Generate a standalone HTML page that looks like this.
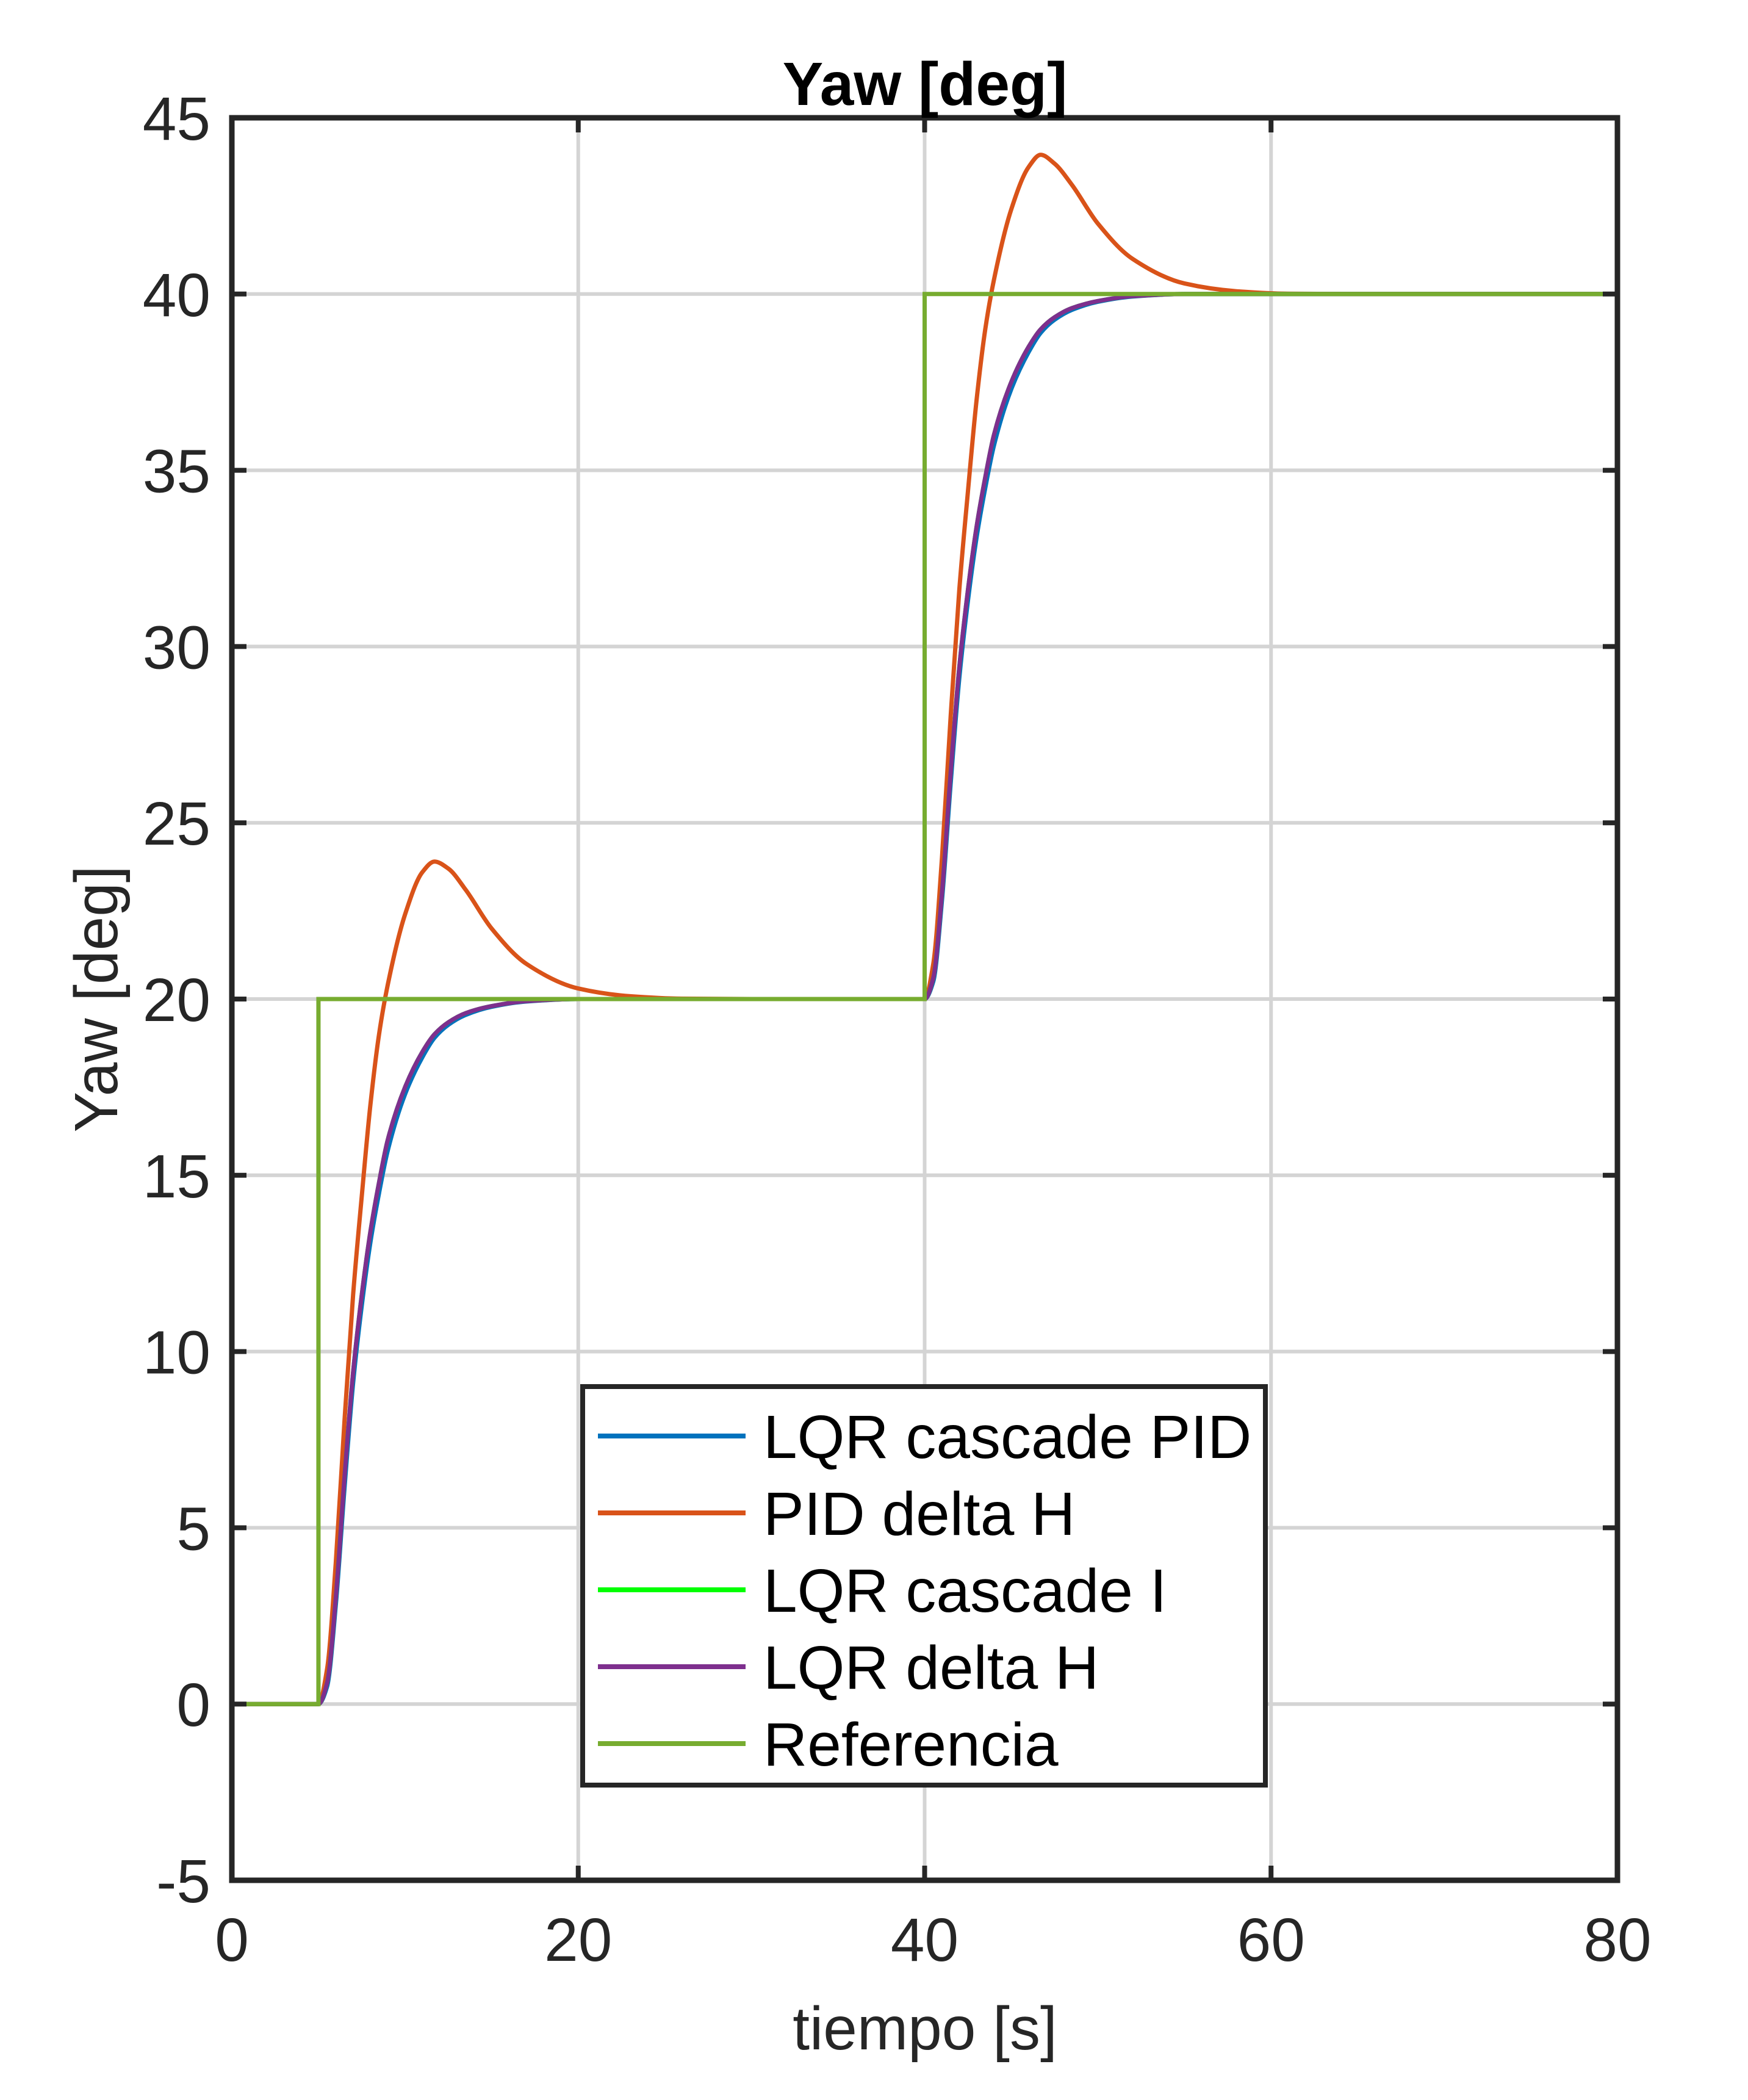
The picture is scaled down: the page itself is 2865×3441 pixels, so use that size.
<!DOCTYPE html>
<html><head><meta charset="utf-8"><style>
html,body{margin:0;padding:0;background:#fff;}
svg{display:block;font-family:"Liberation Sans",Arial,sans-serif;}
</style></head><body>
<svg id="chart" width="2865" height="3441" viewBox="0 0 2865 3441" xmlns="http://www.w3.org/2000/svg">
<rect width="2865" height="3441" fill="#fff"/>
<g id="grid"></g>
<g id="series"></g>
<g id="axes"></g>
<text x="1516" y="172" text-anchor="middle" font-size="100" font-weight="bold" fill="#000">Yaw [deg]</text>
<text x="1516" y="3358" text-anchor="middle" font-size="100" fill="#262626">tiempo [s]</text>
<text transform="translate(192,1637) rotate(-90)" text-anchor="middle" font-size="100" fill="#262626">Yaw [deg]</text>
<g id="legend"></g>
</svg>
<script>
const xTicks=[0,20,40,60,80];
const yTicks=[-5,0,5,10,15,20,25,30,35,40,45];
const tVals=[0,5,5.5,6,6.5,7,7.5,8,8.5,9,10,11,11.7,12.5,13.5,15,17,20,23,26,30,35,40,40.5,41,41.5,42,42.5,43,43.5,44,45,46,46.7,47.5,48.5,50,52,55,58,61,65,70,80];
const pidDeltaH=[0,0,1,4,8,11.6,14.4,17,19,20.4,22.4,23.6,23.9,23.7,23.1,22,21,20.3,20.08,20.01,20,20,20,21,24,28,31.6,34.4,37,39,40.4,42.4,43.6,43.95,43.7,43.1,42,41,40.3,40.08,40.01,40,40,40];
const lqrDeltaH=[0,0,0.6,3,6.4,9.4,11.6,13.4,14.8,16,17.5,18.5,19,19.34,19.6,19.8,19.94,20,20,20,20,20,20,20.6,23,26.4,29.4,31.6,33.4,34.8,36,37.5,38.5,39,39.34,39.6,39.8,39.94,40,40,40,40,40,40];
const lqrCascadeI=[0,0,0.6,3,6.4,9.4,11.6,13.4,14.8,16,17.5,18.5,19,19.34,19.6,19.8,19.94,20,20,20,20,20,20,20.6,23,26.4,29.4,31.6,33.4,34.8,36,37.5,38.5,39,39.34,39.6,39.8,39.94,40,40,40,40,40,40];
const lqrCascadePID=[0,0,0.5,2.8,6.1,9.1,11.3,13.1,14.5,15.7,17.3,18.35,18.9,19.27,19.55,19.78,19.93,20,20,20,20,20,20,20.5,22.8,26.1,29.1,31.3,33.1,34.5,35.7,37.3,38.35,38.9,39.27,39.55,39.78,39.93,40,40,40,40,40,40];
const refT=[0,5,5,40,40,80];
const refV=[0,0,20,20,40,40];
const legendLabels=["LQR cascade PID","PID delta H","LQR cascade I","LQR delta H","Referencia"];
const legendColors=["#0072BD","#D95319","#00FF00","#7E2F8E","#77AC30"];

const L=380,R=2651,T=193,B=3081;
const X=v=>L+(v-0)/(80-0)*(R-L);
const Y=v=>B-(v-(-5))/(45-(-5))*(B-T);
const NS="http://www.w3.org/2000/svg";
function mk(tag,attrs,parent){const e=document.createElementNS(NS,tag);for(const k in attrs)e.setAttribute(k,attrs[k]);parent.appendChild(e);return e;}
const grid=document.getElementById('grid'),axes=document.getElementById('axes'),series=document.getElementById('series'),legend=document.getElementById('legend');
xTicks.forEach(v=>{
  const g=mk('line',{x1:X(v),x2:X(v),y1:T,y2:B,stroke:'#d4d4d4','stroke-width':6},grid);
  
  
  const t1=mk('line',{x1:X(v),x2:X(v),y1:B,y2:B-24,stroke:'#262626','stroke-width':8},axes);
  
  
  const t2=mk('line',{x1:X(v),x2:X(v),y1:T,y2:T+24,stroke:'#262626','stroke-width':8},axes);
  
  
  const lb=mk('text',{x:X(v),y:3213,'text-anchor':'middle','font-size':100,fill:'#262626'},axes);
  lb.textContent=v;
  
  
});
yTicks.forEach(v=>{
  const g=mk('line',{x1:L,x2:R,y1:Y(v),y2:Y(v),stroke:'#d4d4d4','stroke-width':6},grid);
  
  
  const t1=mk('line',{x1:L,x2:L+24,y1:Y(v),y2:Y(v),stroke:'#262626','stroke-width':8},axes);
  
  
  const t2=mk('line',{x1:R,x2:R-24,y1:Y(v),y2:Y(v),stroke:'#262626','stroke-width':8},axes);
  
  
  const lb=mk('text',{x:345,y:Y(v)+36,'text-anchor':'end','font-size':100,fill:'#262626'},axes);
  lb.textContent=v;
  
  
});
const box=mk('rect',{x:L,y:T,width:R-L,height:B-T,fill:'none',stroke:'#262626','stroke-width':9},axes);



function monotone(ts,vs){
  const n=ts.length,xs=ts.slice(),ys=vs.slice();
  const d=[],m=new Array(n).fill(0);
  for(let i=0;i<n-1;i++){const h=xs[i+1]-xs[i];d.push(h>0?(ys[i+1]-ys[i])/h:0);}
  m[0]=d[0];m[n-1]=d[n-2];
  for(let i=1;i<n-1;i++){ if(d[i-1]*d[i]<=0)m[i]=0; else { const h0=xs[i]-xs[i-1],h1=xs[i+1]-xs[i]; const w1=2*h1+h0,w2=h1+2*h0; m[i]=(w1+w2)/(w1/d[i-1]+w2/d[i]); } }
  let path='M'+X(xs[0])+','+Y(ys[0]);
  for(let i=0;i<n-1;i++){
    const h=xs[i+1]-xs[i];
    const c1x=xs[i]+h/3,c1y=ys[i]+m[i]*h/3,c2x=xs[i+1]-h/3,c2y=ys[i+1]-m[i+1]*h/3;
    path+=' C'+X(c1x)+','+Y(c1y)+' '+X(c2x)+','+Y(c2y)+' '+X(xs[i+1])+','+Y(ys[i+1]);
  }
  return path;
}
const defs=[[lqrCascadePID,0,'line-lqr-cascade-pid'],[pidDeltaH,1,'line-pid-delta-h'],[lqrCascadeI,2,'line-lqr-cascade-i'],[lqrDeltaH,3,'line-lqr-delta-h']];
defs.forEach(([vals,ci,name])=>{
  const p=mk('path',{d:monotone(tVals,vals),fill:'none',stroke:legendColors[ci],'stroke-width':7,'stroke-linejoin':'round'},series);
  
  
});
const rp=mk('polyline',{points:refT.map((t,i)=>X(t)+','+Y(refV[i])).join(' '),fill:'none',stroke:legendColors[4],'stroke-width':7},series);



const lb=mk('rect',{x:955,y:2272,width:1119,height:653,fill:'#fff',stroke:'#262626','stroke-width':8},legend);


legendLabels.forEach((s,i)=>{
  const cy=2353+i*126;
  const ln=mk('line',{x1:980,x2:1222,y1:cy,y2:cy,stroke:legendColors[i],'stroke-width':8},legend);
  
  
  const tx=mk('text',{x:1251,y:cy+36,'font-size':100,fill:'#000'},legend);
  tx.textContent=s;
  
  
});
</script>
</body></html>
